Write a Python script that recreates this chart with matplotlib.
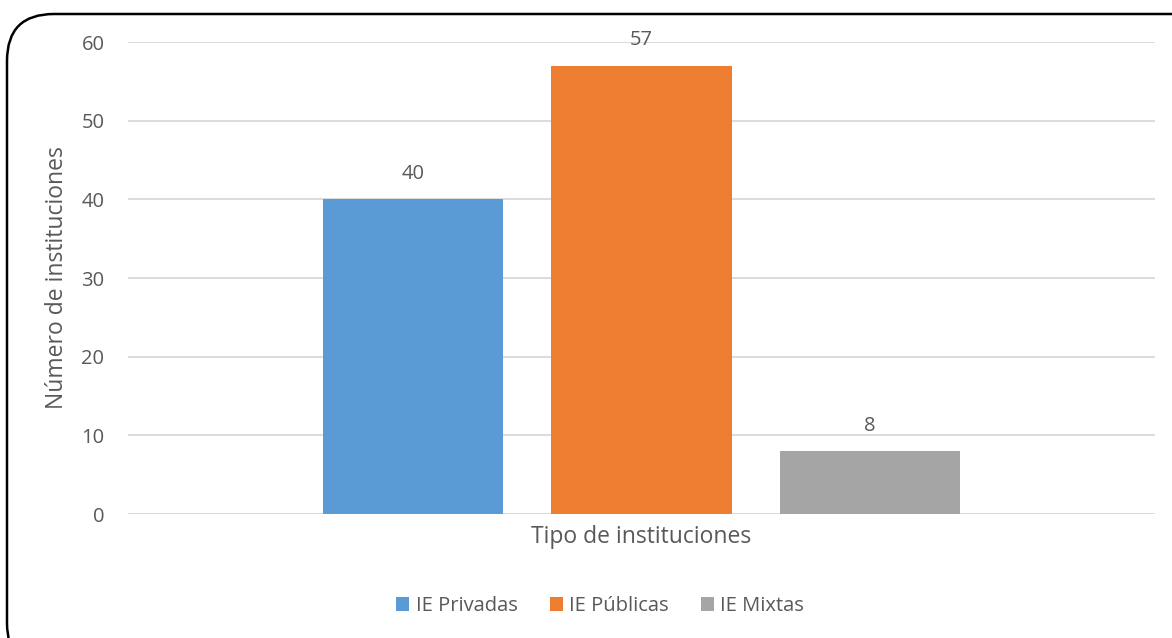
import numpy as np
import matplotlib.pyplot as plt
from matplotlib.patches import FancyBboxPatch

# data
categorias = ['IE Privadas', 'IE Públicas', 'IE Mixtas']
valores = [40, 57, 8]
colores = ['#5B9BD5', '#ED7D31', '#A5A5A5']
yticks = [0, 10, 20, 30, 40, 50, 60]

plt.rcParams['font.family'] = ['Open Sans', 'DejaVu Sans']
txt = '#595959'

fig = plt.figure(figsize=(11.72, 6.38), dpi=100)
ax = fig.add_axes([128/1172, 1-514/638, (1155-128)/1172, (514-42)/638])

x = np.arange(len(valores))
bars = ax.bar(x, valores, width=0.79, color=colores, label=categorias, zorder=3)
for xi, v in zip(x, valores):
    ax.annotate(str(v), (xi, v), xytext=(0, 11), textcoords='offset points',
                ha='center', va='bottom', fontsize=14.5, color=txt)

ax.set_xlim(-1.25, 3.25)
ax.set_ylim(0, 60)
ax.set_yticks(yticks)
ax.set_xticks([])
ax.tick_params(axis='y', length=0, labelsize=14.5, labelcolor=txt, pad=17)
ax.yaxis.grid(True, color='#D9D9D9', linewidth=1.3, zorder=0)
for s in ax.spines.values():
    s.set_visible(False)

ax.set_ylabel('Número de instituciones', fontsize=16.5, color=txt, labelpad=9)
ax.set_xlabel('Tipo de instituciones', fontsize=16.5, color=txt, labelpad=8)

fig.legend(bars, categorias, loc='center', bbox_to_anchor=(600/1172, 1-606/638),
           ncol=3, frameon=False, fontsize=14.5, labelcolor=txt,
           handlelength=0.65, handleheight=0.65, handletextpad=0.3, columnspacing=1.6)

# rounded chart frame, partly cut off at right and bottom
frame = FancyBboxPatch((7/1172, -0.05), 1.2, 1-14/638+0.05,
                       boxstyle='round,pad=0,rounding_size=0.04',
                       transform=fig.transFigure, fill=False,
                       edgecolor='black', linewidth=1.8, mutation_aspect=1172/638)
fig.patches.append(frame)

fig.savefig('out.png', dpi=100)
